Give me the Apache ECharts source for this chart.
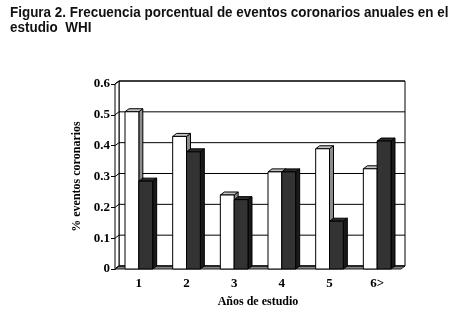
<!DOCTYPE html>
<html>
<head>
<meta charset="utf-8">
<script src="https://cdn.jsdelivr.net/npm/echarts@6/dist/echarts.min.js"></script>
<style>
  html, body { margin: 0; padding: 0; background: #fff; }
  #chart { width: 461px; height: 328px; }
</style>
</head>
<body>
<div id="chart"></div>
<script>
// Años de estudio y frecuencia porcentual de eventos coronarios por grupo
const categories = ['1', '2', '3', '4', '5', '6>'];
const lightValues = [0.51, 0.43, 0.24, 0.315, 0.39, 0.325];
const darkValues  = [0.285, 0.38, 0.225, 0.315, 0.155, 0.415];
const yTicks = [0, 0.1, 0.2, 0.3, 0.4, 0.5, 0.6];
const titleLines = [
  'Figura 2. Frecuencia porcentual de eventos coronarios anuales en el',
  'estudio  WHI'
];

// Pseudo-3D depth offsets (px)
const DX = 4, DY = 3;
const BAR_RATIO = 0.29;
const SERIF = "'Liberation Serif', 'Times New Roman', serif";
const SANS = "'Liberation Sans', Arial, sans-serif";

const chart = echarts.init(document.getElementById('chart'), null, { renderer: 'canvas' });

function wallsItem(params, api) {
  const cs = params.coordSys;
  const x0 = cs.x, y0 = cs.y, w = cs.width, h = cs.height;
  return {
    type: 'group',
    children: [
      { type: 'rect', shape: { x: x0 + DX, y: y0 - DY, width: w, height: h },
        style: { fill: '#fff', stroke: '#000', lineWidth: 1 } },
      { type: 'polygon', shape: { points: [[x0, y0], [x0 + DX, y0 - DY], [x0 + DX, y0 + h - DY], [x0, y0 + h]] },
        style: { fill: '#fff', stroke: '#000', lineWidth: 1 } },
      { type: 'polygon', shape: { points: [[x0, y0 + h], [x0 + DX, y0 + h - DY], [x0 + w + DX, y0 + h - DY], [x0 + w, y0 + h]] },
        style: { fill: '#808080', stroke: '#222', lineWidth: 1 } }
    ]
  };
}

function gridItem(params, api) {
  const cs = params.coordSys;
  const x0 = cs.x, w = cs.width;
  const y = api.coord([0, api.value(1)])[1];
  return {
    type: 'polyline',
    shape: { points: [[x0, y], [x0 + DX, y - DY], [x0 + DX + w, y - DY]] },
    style: { stroke: '#000', lineWidth: 1, fill: null }
  };
}

function makeBar(side, colors) {
  return function (params, api) {
    const idx = api.value(0);
    const top = api.coord([idx, api.value(1)]);
    const base = api.coord([idx, 0]);
    const bw = api.size([1, 0])[0] * BAR_RATIO;
    const xl = side < 0 ? top[0] - bw : top[0];
    const xr = xl + bw;
    const yt = top[1], yb = base[1];
    return {
      type: 'group',
      children: [
        { type: 'polygon', shape: { points: [[xr, yt], [xr + DX, yt - DY], [xr + DX, yb - DY], [xr, yb]] },
          style: { fill: colors.side, stroke: '#000', lineWidth: 1 } },
        { type: 'polygon', shape: { points: [[xl, yt], [xl + DX, yt - DY], [xr + DX, yt - DY], [xr, yt]] },
          style: { fill: colors.top, stroke: '#000', lineWidth: 1 } },
        { type: 'rect', shape: { x: xl, y: yt, width: bw, height: yb - yt },
          style: { fill: colors.front, stroke: '#000', lineWidth: 1 } }
      ]
    };
  };
}

// Condensed bold heading: two lines, horizontally compressed
const titleGraphics = titleLines.map((line, i) => ({
  type: 'text',
  x: 10,
  y: 5 + i * 15.5,
  scaleX: 0.927,
  style: {
    text: line,
    fontFamily: SANS,
    fontWeight: 'bold',
    fontSize: 14.5,
    fill: '#111',
    textVerticalAlign: 'top'
  }
}));

const option = {
  backgroundColor: '#fff',
  animation: false,
  graphic: titleGraphics,
  grid: { left: 115, top: 84, width: 286, height: 185 },
  xAxis: {
    type: 'category',
    data: categories,
    boundaryGap: true,
    axisLine: { show: false },
    axisTick: { show: false },
    axisLabel: { fontFamily: SERIF, fontWeight: 'bold', fontSize: 13, color: '#000', margin: 8 },
    name: 'Años de estudio',
    nameLocation: 'middle',
    nameGap: 27,
    nameTextStyle: { fontFamily: SERIF, fontWeight: 'bold', fontSize: 12, color: '#000' }
  },
  yAxis: {
    type: 'value',
    min: 0, max: 0.6, interval: 0.1,
    axisLine: { show: true, lineStyle: { color: '#000', width: 1 } },
    axisTick: { show: true, length: 4, lineStyle: { color: '#000' } },
    splitLine: { show: false },
    axisLabel: {
      fontFamily: SERIF, fontWeight: 'bold', fontSize: 13, color: '#000', margin: 5,
      formatter: v => (v === 0 ? '0' : v.toFixed(1))
    },
    name: '% eventos coronarios',
    nameLocation: 'middle',
    nameGap: 32,
    nameTextStyle: { fontFamily: SERIF, fontWeight: 'bold', fontSize: 12, color: '#000' }
  },
  series: [
    { type: 'custom', renderItem: wallsItem, data: [[0, 0]], clip: false, z: 1, silent: true },
    { type: 'custom', renderItem: gridItem, data: yTicks.map(t => [0, t]), clip: false, z: 2, silent: true },
    { type: 'custom', name: 'claro', renderItem: makeBar(-1, { front: '#ffffff', top: '#c4c4c4', side: '#8c8c8c' }),
      data: lightValues.map((v, i) => [i, v]), clip: false, z: 3 },
    { type: 'custom', name: 'oscuro', renderItem: makeBar(1, { front: '#333333', top: '#2a2a2a', side: '#1a1a1a' }),
      data: darkValues.map((v, i) => [i, v]), clip: false, z: 4 }
  ]
};

chart.setOption(option);
</script>
</body>
</html>
